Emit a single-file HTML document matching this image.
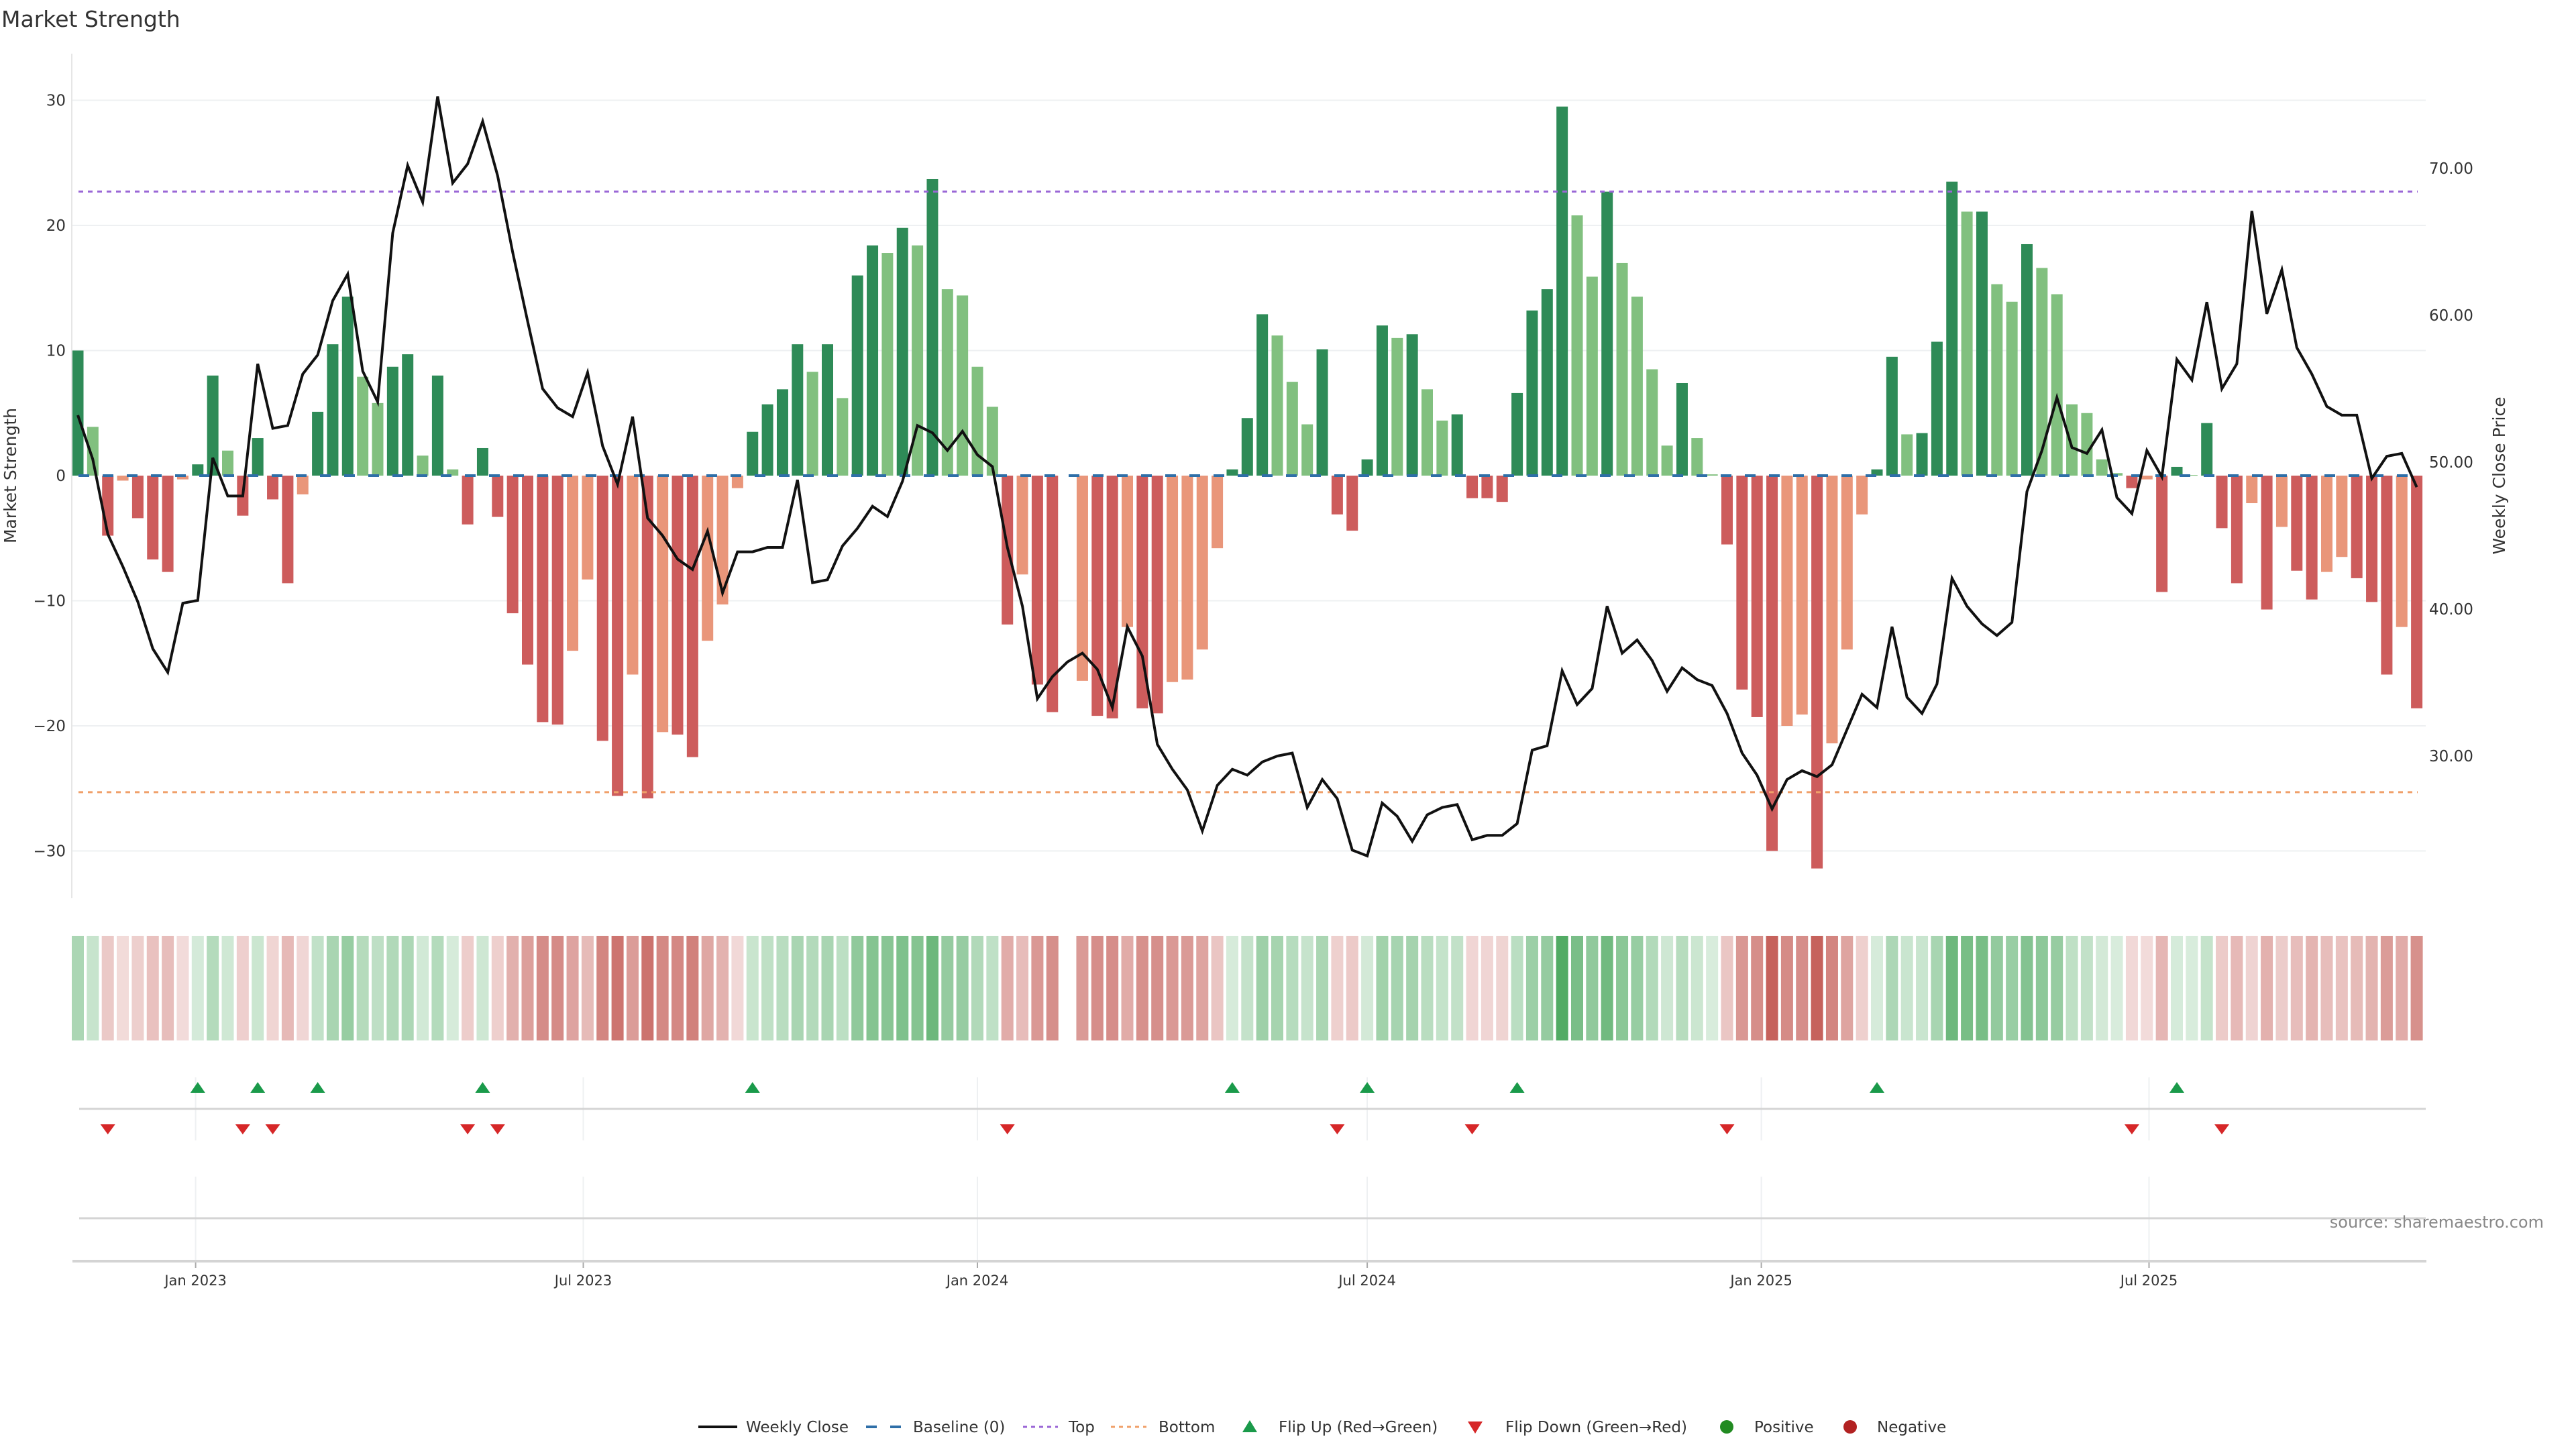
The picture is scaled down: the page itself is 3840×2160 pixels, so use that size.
<!DOCTYPE html>
<html><head><meta charset="utf-8"><title>Market Strength</title>
<style>html,body{margin:0;padding:0;background:#fff;}svg{display:block;font-family:"DejaVu Sans","Liberation Sans",sans-serif;}</style>
</head><body>
<svg id="chart" xmlns="http://www.w3.org/2000/svg" width="3840" height="2160" viewBox="0 0 3840 2160">
<rect width="3840" height="2160" fill="#fff"/>
<text x="2" y="40" font-size="33" fill="#333">Market Strength</text>
<g id="grid"></g>
<g id="refs"></g>
<g id="bars"></g>
<g id="line"></g>
<g id="heat"></g>
<g id="trig"></g>
<g id="axes"></g>
<text x="0" y="0" transform="translate(24,709) rotate(-90)" text-anchor="middle" font-size="25" fill="#333">Market Strength</text>
<text x="0" y="0" transform="translate(3734,709) rotate(-90)" text-anchor="middle" font-size="25" fill="#333">Weekly Close Price</text>
<text x="3792" y="1830" text-anchor="end" font-size="24" fill="#888">source: sharemaestro.com</text>
<g id="legend"></g>
</svg>
<script>
const strength = [10.0,3.9,-4.8,-0.4,-3.4,-6.7,-7.7,-0.3,0.9,8.0,2.0,-3.2,3.0,-1.9,-8.6,-1.5,5.1,10.5,14.3,7.9,5.8,8.7,9.7,1.6,8.0,0.5,-3.9,2.2,-3.3,-11.0,-15.1,-19.7,-19.9,-14.0,-8.3,-21.2,-25.6,-15.9,-25.8,-20.5,
-20.7,-22.5,-13.2,-10.3,-1.0,3.5,5.7,6.9,10.5,8.3,10.5,6.2,16.0,18.4,17.8,19.8,18.4,23.7,14.9,14.4,8.7,5.5,-11.9,-7.9,-16.7,-18.9,null,-16.4,-19.2,-19.4,-12.1,-18.6,-19.0,-16.5,-16.3,-13.9,-5.8,0.5,4.6,12.9,
11.2,7.5,4.1,10.1,-3.1,-4.4,1.3,12.0,11.0,11.3,6.9,4.4,4.9,-1.8,-1.8,-2.1,6.6,13.2,14.9,29.5,20.8,15.9,22.7,17.0,14.3,8.5,2.4,7.4,3.0,0.1,-5.5,-17.1,-19.3,-30.0,-20.0,-19.1,-31.4,-21.4,-13.9,-3.1,
0.5,9.5,3.3,3.4,10.7,23.5,21.1,21.1,15.3,13.9,18.5,16.6,14.5,5.7,5.0,1.3,0.2,-1.0,-0.3,-9.3,0.7,0.05,4.2,-4.2,-8.6,-2.2,-10.7,-4.1,-7.6,-9.9,-7.7,-6.5,-8.2,-10.1,-15.9,-12.1,-18.6];
const closePrice = [53.2,50.2,45.1,42.9,40.5,37.3,35.7,40.4,40.6,50.3,47.7,47.7,56.7,52.3,52.5,56.0,57.3,61.0,62.8,56.2,54.1,65.6,70.2,67.7,74.9,69.0,70.3,73.2,69.5,64.3,59.6,55.0,53.7,53.1,56.1,51.1,48.5,53.1,46.2,45.0,
43.4,42.7,45.3,41.1,43.9,43.9,44.2,44.2,48.8,41.8,42.0,44.3,45.5,47.0,46.3,48.7,52.5,52.0,50.8,52.1,50.5,49.7,44.2,40.2,33.9,35.4,36.4,37.0,35.9,33.3,38.8,36.8,30.8,29.1,27.7,24.9,28.0,29.1,28.7,29.6,
30.0,30.2,26.5,28.4,27.1,23.6,23.2,26.8,25.9,24.2,26.0,26.5,26.7,24.3,24.6,24.6,25.4,30.4,30.7,35.8,33.5,34.6,40.2,37.0,37.9,36.5,34.4,36.0,35.2,34.8,32.9,30.2,28.7,26.4,28.4,29.0,28.6,29.4,31.8,34.2,
33.3,38.8,34.0,32.9,34.9,42.1,40.2,39.0,38.2,39.1,48.0,50.8,54.4,51.0,50.6,52.2,47.6,46.5,50.8,49.0,57.0,55.6,60.9,55.0,56.7,67.1,60.1,63.1,57.8,56.0,53.8,53.2,53.2,48.9,50.4,50.6,48.3];
const flipUpIdx = [8,12,16,27,45,77,86,96,120,140];
const flipDownIdx = [2,11,13,26,28,62,84,93,110,137,143];
const leftTicks = [-30,-20,-10,0,10,20,30];
const rightTicks = [30,40,50,60,70];
const tickDates = ["2023-01-01","2023-07-01","2024-01-01","2024-07-01","2025-01-01","2025-07-01"];
const tickLabels = ["Jan 2023","Jul 2023","Jan 2024","Jul 2024","Jan 2025","Jul 2025"];
const topLevel = [22.7];
const bottomLevel = [-25.3];
const startDate = "2022-11-07";

const NS="http://www.w3.org/2000/svg";
function mk(tag, attrs, parent){const e=document.createElementNS(NS,tag);for(const k in attrs)e.setAttribute(k,attrs[k]);parent.appendChild(e);return e;}
const DAY=86400000, PXDAY=22.35/7, X0=116;
const t0=Date.parse(startDate);
function xIdx(i){return X0+22.35*i;}
function xDate(d){return X0+(Date.parse(d)-t0)/DAY*PXDAY;}
function yL(v){return 709-v*18.65;}
function yR(p){return 689-(p-50)*21.9;}
const PL=107, PR=3616;
const G=document.getElementById('grid'),R=document.getElementById('refs'),B=document.getElementById('bars'),L=document.getElementById('line'),H=document.getElementById('heat'),T=document.getElementById('trig'),A=document.getElementById('axes'),LG=document.getElementById('legend');

leftTicks.forEach(v=>{
  if(v!==0){const g=mk('line',{x1:PL,x2:PR,y1:yL(v),y2:yL(v),stroke:'#eef0f2','stroke-width':2},G);
  
  }
  const t=mk('text',{x:98,y:yL(v)+8,'text-anchor':'end','font-size':23,fill:'#333'},A);
  t.textContent=(v<0?'\u2212'+Math.abs(v):String(v));
  
  
});
rightTicks.forEach(p=>{
  const t=mk('text',{x:3621,y:yR(p)+8,'font-size':23,fill:'#333'},A);
  t.textContent=p.toFixed(2);
  
  
});
const ax=mk('line',{x1:PL,x2:PL,y1:80,y2:1339,stroke:'#e6e6e6','stroke-width':2},A);



let prev=null;
strength.forEach((v,i)=>{
  if(v===null)return;
  let c;
  if(v>=0)c=(prev===null||v>=prev)?'#2e8b57':'#81c07f';
  else c=(prev===null||v<=prev)?'#cd5c5c':'#e9967a';
  prev=v;
  const y=Math.min(yL(v),yL(0)),h=Math.abs(yL(v)-yL(0));
  const r=mk('rect',{x:xIdx(i)-8.5,y:y,width:17,height:Math.max(h,1),fill:c},B);
  
  
});
const bl=mk('line',{x1:117,x2:3604,y1:yL(0),y2:yL(0),stroke:'#2f6fa8','stroke-width':4,'stroke-dasharray':'16 20'},R);


R.parentNode.insertBefore(R,L);
const tl=mk('line',{x1:117,x2:3604,y1:yL(topLevel[0]),y2:yL(topLevel[0]),stroke:'#9a66d6','stroke-width':3,'stroke-dasharray':'7 7'},R);


const btl=mk('line',{x1:117,x2:3604,y1:yL(bottomLevel[0]),y2:yL(bottomLevel[0]),stroke:'#f0a06a','stroke-width':3,'stroke-dasharray':'7 7'},R);



const pts=closePrice.map((p,i)=>xIdx(i).toFixed(1)+','+yR(p).toFixed(1)).join(' ');
const pl=mk('polyline',{points:pts,fill:'none',stroke:'#111','stroke-width':4,'stroke-linejoin':'miter'},L);



strength.forEach((v,i)=>{
  if(v===null)return;
  const t=0.22+0.78*Math.min(1,Math.abs(v)/30);
  const base=v>=0?[80,170,98]:[198,98,92];
  const col='rgb('+base.map(b=>Math.round(255+(b-255)*t)).join(',')+')';
  const r=mk('rect',{x:xIdx(i)-9,y:1395,width:18,height:156,fill:col},H);
  
  
});

tickDates.forEach((d,k)=>{
  const x=xDate(d);
  [[1606,1700],[1754,1880]].forEach(s=>{
    const g=mk('line',{x1:x,x2:x,y1:s[0],y2:s[1],stroke:'#eef0f2','stroke-width':2},T);
    
    
  });
  const tk=mk('line',{x1:x,x2:x,y1:1880,y2:1890,stroke:'#aaa','stroke-width':2},A);
  
  
  const t=mk('text',{x:x,y:1916,'text-anchor':'middle','font-size':21,fill:'#333'},A);
  t.textContent=tickLabels[k];
  
  
});
const h1=mk('line',{x1:118,x2:3616,y1:1653,y2:1653,stroke:'#d4d4d4','stroke-width':3},T);


const h2=mk('line',{x1:118,x2:3616,y1:1816,y2:1816,stroke:'#d4d4d4','stroke-width':3},T);


const xa=mk('line',{x1:108,x2:3617,y1:1880,y2:1880,stroke:'#d4d4d4','stroke-width':4},A);


flipUpIdx.forEach(i=>{
  const x=xIdx(i);
  const p=mk('polygon',{points:(x-11)+',1629 '+(x+11)+',1629 '+x+',1613',fill:'#1a9a4a'},T);
  
  
});
flipDownIdx.forEach(i=>{
  const x=xIdx(i);
  const p=mk('polygon',{points:(x-11)+',1676 '+(x+11)+',1676 '+x+',1691',fill:'#d62728'},T);
  
  
});

const LY=2127;
function ltext(x,s,name){const t=mk('text',{x:x,y:LY+8,'font-size':23,fill:'#333'},LG);t.textContent=s;}
let e;
e=mk('line',{x1:1041,x2:1099,y1:LY,y2:LY,stroke:'#111','stroke-width':4},LG);


ltext(1112,'Weekly Close','legend-weekly-close');
e=mk('line',{x1:1291,x2:1344,y1:LY,y2:LY,stroke:'#2f6fa8','stroke-width':4,'stroke-dasharray':'16 20'},LG);


ltext(1361,'Baseline (0)','legend-baseline');
e=mk('line',{x1:1525,x2:1577,y1:LY,y2:LY,stroke:'#9a66d6','stroke-width':3,'stroke-dasharray':'6 6'},LG);


ltext(1593,'Top','legend-top');
e=mk('line',{x1:1656,x2:1709,y1:LY,y2:LY,stroke:'#f0a06a','stroke-width':3,'stroke-dasharray':'6 6'},LG);


ltext(1727,'Bottom','legend-bottom');
e=mk('polygon',{points:'1852,2135 1874,2135 1863,2117',fill:'#1a9a4a'},LG);


ltext(1906,'Flip Up (Red\u2192Green)','legend-flip-up');
e=mk('polygon',{points:'2188,2119 2210,2119 2199,2137',fill:'#d62728'},LG);


ltext(2244,'Flip Down (Green\u2192Red)','legend-flip-down');
e=mk('circle',{cx:2574,cy:LY,r:10,fill:'#228b22'},LG);


ltext(2615,'Positive','legend-positive');
e=mk('circle',{cx:2758,cy:LY,r:10,fill:'#b22222'},LG);


ltext(2798,'Negative','legend-negative');
</script>
</body></html>
